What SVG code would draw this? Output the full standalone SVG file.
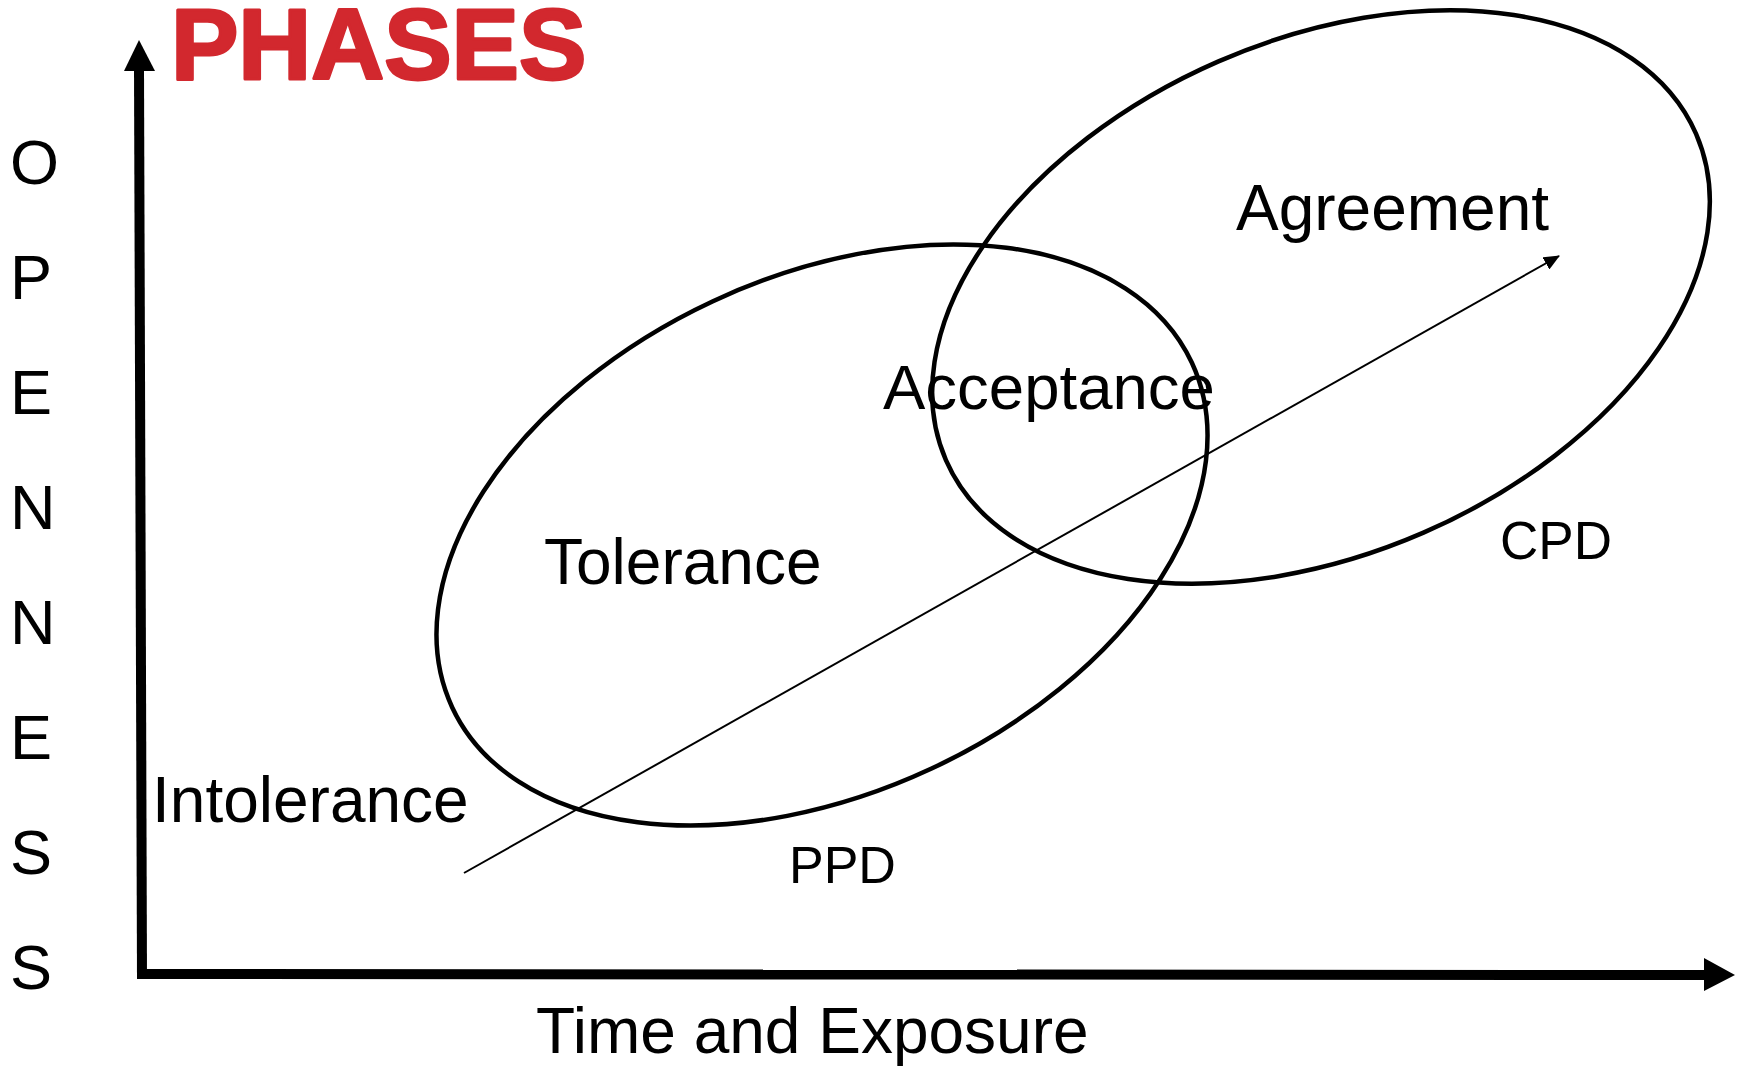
<svg xmlns="http://www.w3.org/2000/svg" width="1744" height="1067" viewBox="0 0 1744 1067">
<style>
.t{font-family:"Liberation Sans",Arial,sans-serif;fill:#000}
.e{fill:none;stroke:#000;stroke-width:4.5}
</style>
<defs>
<marker id="ah" markerWidth="16" markerHeight="14" refX="15" refY="7" orient="auto" markerUnits="userSpaceOnUse"><path d="M0,0 L16,7 L0,14 Z" fill="#000"/></marker>
</defs>
<rect width="1744" height="1067" fill="#fff"/>
<text id="title" x="171" y="79" class="t" font-size="101" font-weight="bold" style="fill:#D2282E;stroke:#D2282E;stroke-width:3;stroke-linejoin:round">PHASES</text>
<g id="axis-label-y" class="t" font-size="63">
<text x="10" y="184" class="t">O</text>
<text x="10" y="299" class="t">P</text>
<text x="10" y="414" class="t">E</text>
<text x="10" y="529" class="t">N</text>
<text x="10" y="644" class="t">N</text>
<text x="10" y="759" class="t">E</text>
<text x="10" y="874" class="t">S</text>
<text x="10" y="989" class="t">S</text>
</g>
<g id="axes">
<line x1="142" y1="978" x2="139" y2="68" stroke="#000" stroke-width="10"/>
<polygon points="139,40 124,71 155,71" fill="#000"/>
<line x1="137" y1="974" x2="1706" y2="975" stroke="#000" stroke-width="10"/>
<polygon points="1735,975 1704,958 1704,991" fill="#000"/>
</g>
<g id="ppd">
<ellipse class="e" cx="822" cy="535" rx="408" ry="258" transform="rotate(-25 822 535)"/>
</g>
<g id="cpd">
<ellipse class="e" cx="1321" cy="297" rx="409" ry="257" transform="rotate(-23.5 1321 297)"/>
</g>
<g id="connectors">
<line x1="464" y1="873" x2="1559" y2="256" stroke="#000" stroke-width="2" marker-end="url(#ah)"/>
</g>
<g id="labels" class="t">
<text x="1236" y="230" font-size="64" class="t">Agreement</text>
<text x="883" y="409" font-size="63.5" class="t">Acceptance</text>
<text x="544" y="584" font-size="64" class="t">Tolerance</text>
<text x="152" y="822" font-size="64" class="t">Intolerance</text>
<text x="1500" y="559" font-size="53" class="t">CPD</text>
<text x="789" y="883" font-size="52" class="t">PPD</text>
<text x="536" y="1053" font-size="64" class="t">Time and Exposure</text>
</g>
</svg>
